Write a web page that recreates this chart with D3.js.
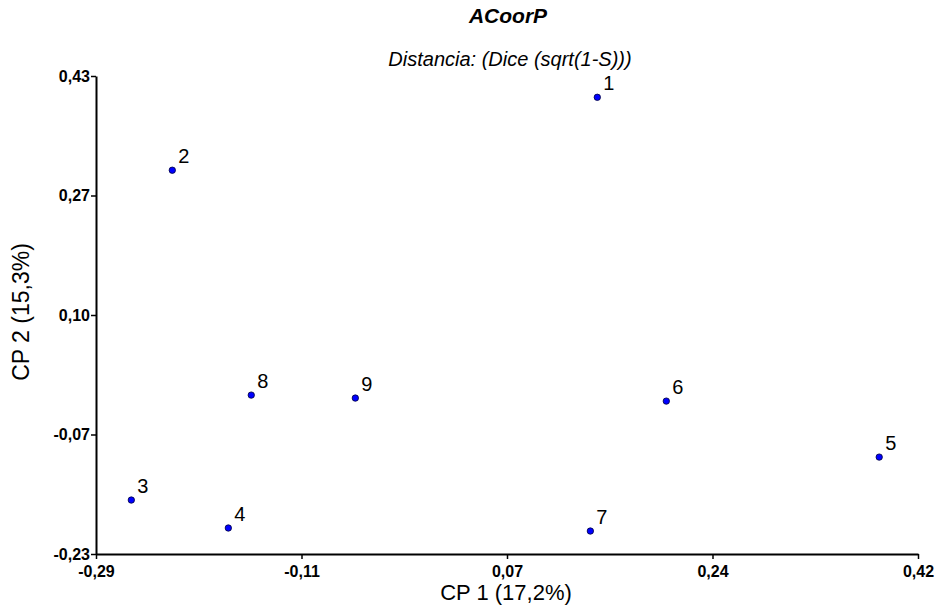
<!DOCTYPE html>
<html lang="es">
<head>
  <meta charset="utf-8">
  <title>ACoorP</title>
  <script src="https://cdn.jsdelivr.net/npm/d3@7"></script>
  <style>
    * { margin: 0; padding: 0; }
    body { background: #fff; }
    svg text { font-family: "Liberation Sans", Arial, sans-serif; }
  </style>
</head>
<body>
  <div id="chart"></div>
  <script>
    // datos
    var labels = ["1", "2", "3", "4", "5", "6", "7", "8", "9"];
    var cp1 = [0.1455, -0.2216, -0.2570, -0.1732, 0.3890, 0.2051, 0.1395, -0.1534, -0.0635];
    var cp2 = [0.4006, 0.2999, -0.1555, -0.1941, -0.0962, -0.0189, -0.1983, -0.0106, -0.0147];
    var xTickLabels = ["-0,29", "-0,11", "0,07", "0,24", "0,42"];
    var yTickLabels = ["-0,23", "-0,07", "0,10", "0,27", "0,43"];
    var xDomain = [-0.2875, 0.4225];
    var yDomain = [-0.23, 0.43];

    var width = 935, height = 609;
    var margin = { top: 76, right: 17, bottom: 55, left: 96 };

    var svg = d3.select("#chart").append("svg")
      .attr("width", width)
      .attr("height", height);

    var x = d3.scaleLinear().domain(xDomain).range([margin.left, width - margin.right]);
    var y = d3.scaleLinear().domain(yDomain).range([height - margin.bottom, margin.top]);

    // ticks repartidos igual que en el original
    var xTicks = xTickLabels.map(function (d, i) {
      return xDomain[0] + i * (xDomain[1] - xDomain[0]) / (xTickLabels.length - 1);
    });
    var yTicks = yTickLabels.map(function (d, i) {
      return yDomain[0] + i * (yDomain[1] - yDomain[0]) / (yTickLabels.length - 1);
    });

    var xAxis = d3.axisBottom(x).tickValues(xTicks).tickSize(5).tickSizeOuter(0)
      .tickFormat(function (d, i) { return xTickLabels[i]; });
    var yAxis = d3.axisLeft(y).tickValues(yTicks).tickSize(5).tickSizeOuter(0)
      .tickFormat(function (d, i) { return yTickLabels[i]; });

    var gx = svg.append("g")
      .attr("transform", "translate(0," + (height - margin.bottom) + ")")
      .call(xAxis);
    var gy = svg.append("g")
      .attr("transform", "translate(" + margin.left + ",0)")
      .call(yAxis);

    [gx, gy].forEach(function (g) {
      g.select(".domain").attr("stroke", "#000").attr("stroke-width", 2);
      g.selectAll(".tick line").attr("stroke", "#000").attr("stroke-width", 1.5);
      g.selectAll(".tick text")
        .attr("fill", "#000")
        .attr("font-size", "16px")
        .attr("font-weight", "bold")
        .style("font-family", "'Liberation Sans', Arial, sans-serif");
    });
    gx.selectAll(".tick text").attr("y", 23).attr("dy", null);
    gy.selectAll(".tick text").attr("x", -6);

    // puntos
    var pts = labels.map(function (l, i) { return { label: l, x: cp1[i], y: cp2[i] }; });

    svg.append("g").selectAll("circle")
      .data(pts)
      .enter().append("circle")
      .attr("cx", function (d) { return x(d.x); })
      .attr("cy", function (d) { return y(d.y); })
      .attr("r", 3.2)
      .attr("fill", "#0000ff")
      .attr("stroke", "#00003a")
      .attr("stroke-width", 0.8);

    svg.append("g").selectAll("text")
      .data(pts)
      .enter().append("text")
      .attr("x", function (d) { return x(d.x) + 6; })
      .attr("y", function (d) { return y(d.y) - 7; })
      .attr("font-size", "20px")
      .attr("fill", "#000")
      .text(function (d) { return d.label; });

    // títulos
    svg.append("text")
      .attr("x", 508).attr("y", 23)
      .attr("text-anchor", "middle")
      .attr("font-size", "21px")
      .attr("font-weight", "bold")
      .attr("font-style", "italic")
      .text("ACoorP");

    svg.append("text")
      .attr("x", 510).attr("y", 66)
      .attr("text-anchor", "middle")
      .attr("font-size", "20px")
      .attr("font-style", "italic")
      .text("Distancia: (Dice (sqrt(1-S)))");

    svg.append("text")
      .attr("x", 506).attr("y", 600)
      .attr("text-anchor", "middle")
      .attr("font-size", "22px")
      .text("CP 1 (17,2%)");

    svg.append("text")
      .attr("transform", "translate(29,312) rotate(-90)")
      .attr("text-anchor", "middle")
      .attr("font-size", "23px")
      .text("CP 2 (15,3%)");
  </script>
</body>
</html>
